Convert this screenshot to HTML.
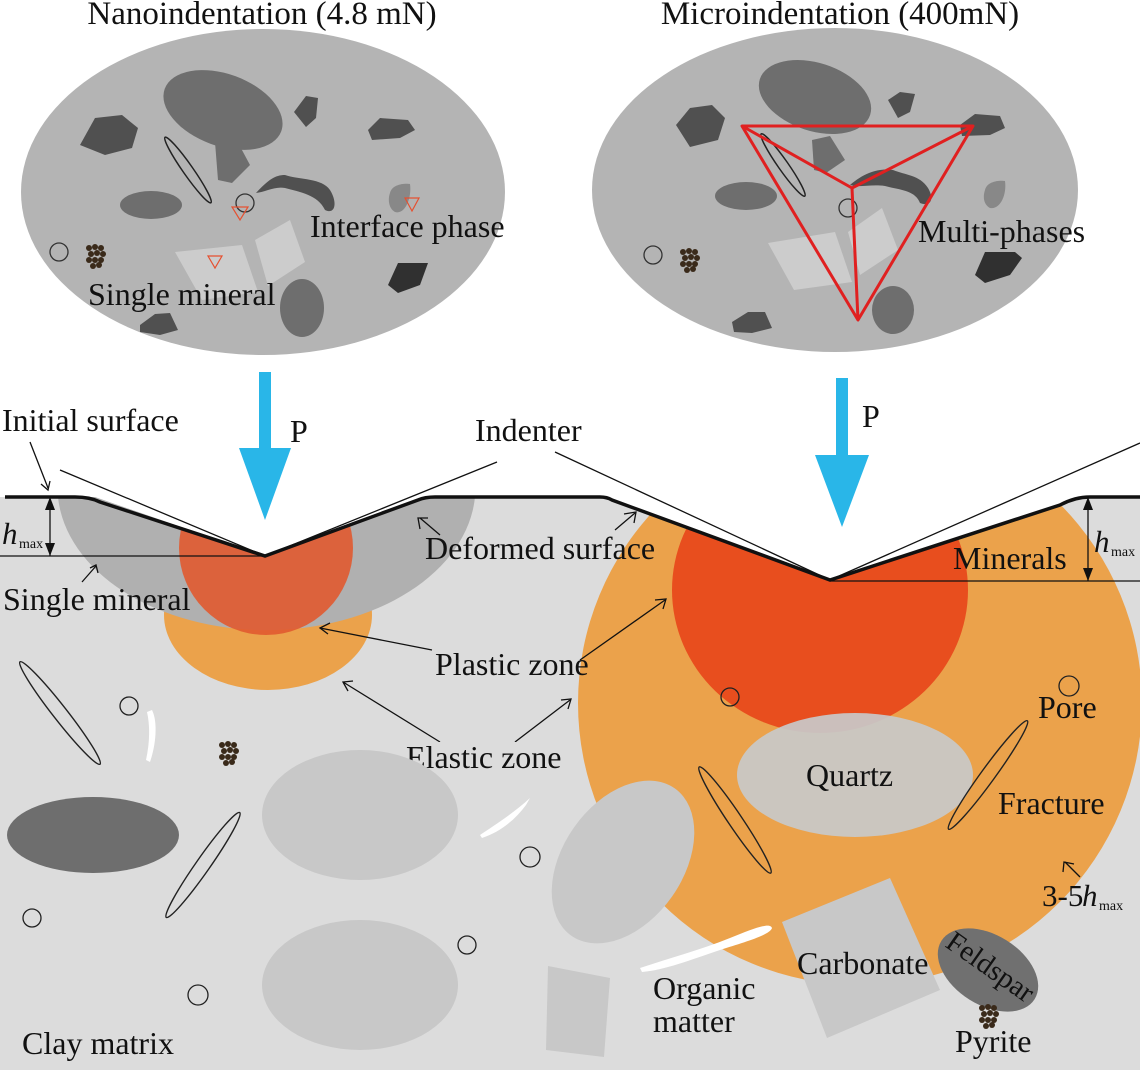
<!DOCTYPE html>
<html><head><meta charset="utf-8"><style>body{margin:0;background:#fff}svg{display:block}text{font-family:"Liberation Serif",serif;fill:#111}</style></head><body>
<svg width="1140" height="1070" viewBox="0 0 1140 1070" xmlns="http://www.w3.org/2000/svg">
<defs>
<g id="pyr"><g fill="#3a2a1a"><circle cx="0" cy="0" r="3"/><circle cx="6" cy="-1" r="3"/><circle cx="12" cy="0" r="3"/><circle cx="2" cy="6" r="3"/><circle cx="8" cy="5" r="3"/><circle cx="14" cy="6" r="3"/><circle cx="0" cy="12" r="3"/><circle cx="6" cy="12" r="3"/><circle cx="12" cy="12" r="3"/><circle cx="4" cy="18" r="3"/><circle cx="10" cy="17" r="3"/></g></g>
</defs>
<rect x="0" y="497" width="1140" height="573" fill="#dcdcdc"/>
<ellipse cx="268" cy="615" rx="104" ry="75" fill="#eba24b"/>
<path d="M58,497 L475,497 A209,143 0 0 1 58,497Z" fill="#b0b0b0"/>
<circle cx="266" cy="548" r="87" fill="#e15a30" opacity="0.9"/>
<circle cx="860" cy="703" r="282" fill="#eba24b"/>
<ellipse cx="820" cy="590" rx="148" ry="143" fill="#e84e1e"/>
<ellipse cx="855" cy="775" rx="118" ry="62" fill="#c8c8c8" opacity="0.93"/>
<path d="M0,0 H1140 V497 H1090 Q1070,497 1060,505 L830,580 L605,497 L430,497 L265,556 L95,497 H0Z" fill="#fff"/>
<path d="M5,497 L75,497 Q90,497 100,502 L265,556 L418,500 Q425,497 435,497 L600,497 Q607,497 612,500 L830,580 L1060,505 Q1075,497 1090,497 L1140,497" fill="none" stroke="#111" stroke-width="3.5"/>
<g stroke="#111" stroke-width="1.3" fill="none">
<line x1="60" y1="470" x2="265" y2="556"/><line x1="265" y1="556" x2="497" y2="462"/>
<line x1="555" y1="452" x2="830" y2="580"/><line x1="830" y1="580" x2="1140" y2="443"/>
<line x1="0" y1="556" x2="265" y2="556"/><line x1="830" y1="581" x2="1140" y2="581"/>
<line x1="50" y1="497" x2="50" y2="556"/><line x1="1088" y1="497" x2="1088" y2="581"/>
<line x1="30" y1="442" x2="48" y2="488"/>
<line x1="440" y1="535" x2="420" y2="518"/>
<line x1="615" y1="530" x2="635" y2="513"/>
<line x1="82" y1="582" x2="96" y2="566"/>
<line x1="432" y1="650" x2="320" y2="628"/>
<line x1="580" y1="660" x2="665" y2="600"/>
<line x1="440" y1="742" x2="343" y2="682"/>
<line x1="515" y1="742" x2="570" y2="700"/>
<line x1="1080" y1="877" x2="1065" y2="862"/>
</g>
<g fill="#111">
<polygon points="50,497 45,510 55,510"/><polygon points="50,556 45,543 55,543"/>
<polygon points="1088,497 1083,510 1093,510"/><polygon points="1088,581 1083,568 1093,568"/>
</g>
<g stroke="#111" stroke-width="1.3" fill="none">
<polyline points="41,484 48,490 50,481"/><polyline points="420,529 418,518 428,518"/><polyline points="624,514 636,512 634,523"/>
<polyline points="90,568 96,565 98,573"/><polyline points="330,623 320,628 328,634"/><polyline points="655,600 666,599 663,609"/>
<polyline points="353,681 343,682 348,691"/><polyline points="561,700 571,699 568,709"/><polyline points="1063,872 1064,862 1074,864"/>
</g>
<text x="2" y="544" font-size="31" font-style="italic">h</text><text x="19" y="548" font-size="14">max</text>
<text x="1094" y="552" font-size="31" font-style="italic">h</text><text x="1111" y="556" font-size="14">max</text>
<text x="2" y="431" font-size="32">Initial surface</text>
<text x="475" y="441" font-size="32">Indenter</text>
<text x="425" y="559" font-size="32">Deformed surface</text>
<text x="3" y="610" font-size="32">Single mineral</text>
<text x="953" y="569" font-size="32">Minerals</text>
<text x="435" y="675" font-size="32">Plastic zone</text>
<rect x="404" y="742" width="160" height="32" fill="#dcdcdc"/>
<text x="406" y="768" font-size="32">Elastic zone</text>
<ellipse cx="60" cy="713" rx="7" ry="65" transform="rotate(-38 60 713)" fill="none" stroke="#222" stroke-width="1.4"/>
<ellipse cx="203" cy="865" rx="7" ry="64" transform="rotate(35 203 865)" fill="none" stroke="#222" stroke-width="1.4"/>
<ellipse cx="735" cy="820" rx="7" ry="64" transform="rotate(-34 735 820)" fill="none" stroke="#222" stroke-width="1.4"/>
<ellipse cx="988" cy="775" rx="7" ry="67" transform="rotate(36 988 775)" fill="none" stroke="#222" stroke-width="1.4"/>
<circle cx="129" cy="706" r="9" fill="none" stroke="#222" stroke-width="1.3"/>
<circle cx="530" cy="857" r="10" fill="none" stroke="#222" stroke-width="1.3"/>
<circle cx="32" cy="918" r="9" fill="none" stroke="#222" stroke-width="1.3"/>
<circle cx="467" cy="945" r="9" fill="none" stroke="#222" stroke-width="1.3"/>
<circle cx="198" cy="995" r="10" fill="none" stroke="#222" stroke-width="1.3"/>
<circle cx="730" cy="697" r="9" fill="none" stroke="#222" stroke-width="1.3"/>
<circle cx="1069" cy="686" r="10" fill="none" stroke="#222" stroke-width="1.3"/>
<ellipse cx="93" cy="835" rx="86" ry="38" fill="#6e6e6e"/>
<ellipse cx="360" cy="815" rx="98" ry="65" fill="#c8c8c8"/>
<ellipse cx="360" cy="985" rx="98" ry="65" fill="#c8c8c8"/>
<ellipse cx="623" cy="862" rx="60" ry="90" transform="rotate(35 623 862)" fill="#c8c8c8"/>
<polygon points="548,966 610,978 604,1057 546,1050" fill="#c8c8c8"/>
<polygon points="782,922 890,878 940,990 827,1038" fill="#c8c8c8"/>
<ellipse cx="988" cy="970" rx="55" ry="35" transform="rotate(32 988 970)" fill="#707070"/>
<path d="M152,710 C158,722 156,745 150,762 L146,760 C150,742 150,725 147,712Z" fill="#fff"/>
<path d="M480,835 C495,825 515,812 530,798 L526,805 C515,820 500,832 482,838Z" fill="#fff"/>
<path d="M640,968 C670,958 700,950 730,938 C755,928 770,922 772,928 C770,935 745,942 720,950 C690,960 665,970 642,972Z" fill="#fff"/>
<use href="#pyr" x="222" y="745"/>
<use href="#pyr" x="982" y="1008"/>
<text x="806" y="786" font-size="32">Quartz</text>
<text x="998" y="814" font-size="32">Fracture</text>
<text x="1038" y="718" font-size="32">Pore</text>
<text x="1042" y="906" font-size="31">3-5</text><text x="1082" y="906" font-size="31" font-style="italic">h</text><text x="1099" y="910" font-size="14">max</text>
<text x="797" y="974" font-size="32">Carbonate</text>
<text x="653" y="999" font-size="32">Organic</text>
<text x="653" y="1032" font-size="32">matter</text>
<text x="955" y="1052" font-size="32">Pyrite</text>
<text x="22" y="1054" font-size="32">Clay matrix</text>
<text x="944" y="946" font-size="29" transform="rotate(35 944 946)">Feldspar</text>
<!-- top -->
<text x="262" y="24" font-size="33" text-anchor="middle">Nanoindentation (4.8 mN)</text>
<text x="840" y="24" font-size="33" text-anchor="middle">Microindentation (400mN)</text>
<ellipse cx="263" cy="192" rx="242" ry="163" fill="#b4b4b4"/>
<ellipse cx="223" cy="110" rx="62" ry="36" transform="rotate(20 223 110)" fill="#6e6e6e"/>
<polygon points="80,145 95,118 122,115 138,128 132,148 105,155" fill="#505050"/>
<polygon points="294,112 306,96 318,98 316,118 306,127" fill="#505050"/>
<polygon points="368,130 380,118 408,120 415,130 400,138 372,140" fill="#505050"/>
<polygon points="215,142 235,137 250,165 232,183 218,180" fill="#6e6e6e"/>
<path d="M256,193 C268,180 275,175 285,175 C300,180 322,178 330,190 C338,203 335,215 325,210 C318,195 300,192 285,188 C275,186 265,192 256,193Z" fill="#505050"/>
<ellipse cx="151" cy="205" rx="31" ry="14" fill="#6e6e6e"/>
<ellipse cx="188" cy="170" rx="5" ry="40" transform="rotate(-35 188 170)" fill="none" stroke="#222" stroke-width="1.5"/>
<circle cx="245" cy="203" r="9" fill="none" stroke="#333" stroke-width="1.3"/>
<path d="M390,193 C392,184 405,183 410,184 C412,198 405,215 395,212 C388,208 388,198 390,193Z" fill="#888"/>
<polygon points="388,285 398,263 428,263 420,285 398,293" fill="#303030"/>
<polygon points="175,252 242,245 258,292 202,300" fill="#cccccc"/>
<polygon points="255,240 290,220 305,262 268,286" fill="#cccccc"/>
<ellipse cx="302" cy="308" rx="22" ry="29" fill="#6e6e6e"/>
<polygon points="140,325 155,314 170,313 178,330 160,335 140,332" fill="#505050"/>
<circle cx="59" cy="252" r="9" fill="none" stroke="#333" stroke-width="1.3"/>
<use href="#pyr" x="89" y="248"/>
<g fill="none" stroke="#e55030" stroke-width="1.2"><polygon points="232,207 248,207 240,220"/><polygon points="405,198 419,198 412,211"/><polygon points="208,256 222,256 215,268"/></g>
<text x="310" y="237" font-size="32">Interface phase</text>
<text x="88" y="305" font-size="32">Single mineral</text>
<ellipse cx="835" cy="190" rx="243" ry="162" fill="#b4b4b4"/>
<ellipse cx="815" cy="97" rx="58" ry="34" transform="rotate(18 815 97)" fill="#6e6e6e"/>
<polygon points="676,125 690,108 712,105 725,118 718,140 690,147" fill="#505050"/>
<polygon points="888,100 900,92 915,94 910,112 898,118" fill="#505050"/>
<polygon points="960,125 975,114 1000,116 1005,128 990,135 962,136" fill="#505050"/>
<polygon points="812,140 830,136 845,160 826,173 814,170" fill="#6e6e6e"/>
<path d="M850,185 C865,172 880,168 893,170 C905,175 920,175 928,188 C935,200 930,207 920,203 C915,190 900,190 885,186 C870,184 860,188 850,185Z" fill="#505050"/>
<ellipse cx="746" cy="196" rx="31" ry="14" fill="#6e6e6e"/>
<ellipse cx="783" cy="165" rx="5" ry="38" transform="rotate(-35 783 165)" fill="none" stroke="#222" stroke-width="1.5"/>
<circle cx="848" cy="208" r="9" fill="none" stroke="#333" stroke-width="1.3"/>
<path d="M985,190 C987,181 1000,180 1005,181 C1007,195 1000,210 990,208 C983,204 983,196 985,190Z" fill="#888"/>
<polygon points="975,275 985,252 1015,252 1022,258 1010,275 985,283" fill="#303030"/>
<polygon points="768,243 835,232 852,282 794,290" fill="#cccccc"/>
<polygon points="848,232 882,208 898,250 860,275" fill="#cccccc"/>
<ellipse cx="893" cy="310" rx="21" ry="24" fill="#6e6e6e"/>
<polygon points="732,322 748,312 765,312 772,328 752,333 734,332" fill="#505050"/>
<circle cx="653" cy="255" r="9" fill="none" stroke="#333" stroke-width="1.3"/>
<use href="#pyr" x="683" y="252"/>
<g fill="none" stroke="#e02020" stroke-width="3" stroke-linejoin="round"><polygon points="742,126 973,126 858,320"/><polyline points="742,126 852,188 973,126"/><line x1="852" y1="188" x2="858" y2="320"/></g>
<text x="918" y="242" font-size="32">Multi-phases</text>
<rect x="259" y="372" width="12" height="78" fill="#29b6e8"/><polygon points="239,448 291,448 265,520" fill="#29b6e8"/>
<rect x="836" y="378" width="12" height="78" fill="#29b6e8"/><polygon points="815,455 869,455 842,527" fill="#29b6e8"/>
<text x="290" y="442" font-size="32">P</text>
<text x="862" y="427" font-size="32">P</text>
</svg>
</body></html>
